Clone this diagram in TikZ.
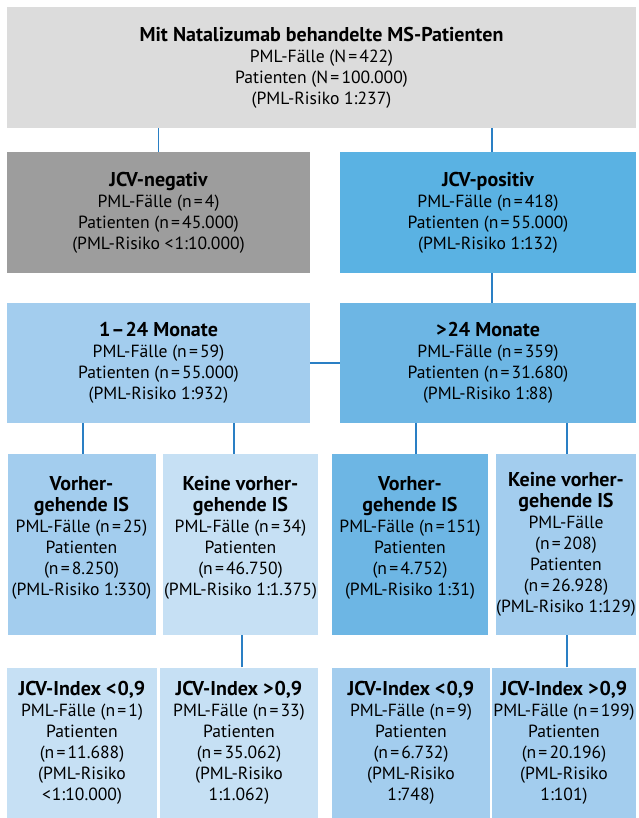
\documentclass[tikz,border=0pt]{standalone}
\usepackage{fontspec}
\setmainfont{PT Sans}
\usetikzlibrary{positioning}

\definecolor{topgray}{HTML}{DCDCDC}
\definecolor{neggray}{HTML}{9D9D9D}
\definecolor{posblue}{HTML}{5AB2E3}
\definecolor{midblue}{HTML}{6DB6E4}
\definecolor{lightblue}{HTML}{A3CDEE}
\definecolor{paleblue}{HTML}{C6E0F4}
\definecolor{linkblue}{HTML}{2A7FC4}

% text of a row-4 box starts at the top
\newcommand{\toptext}[2]{\parbox[c][136pt][t]{#1}{\centering #2}}
\newcommand{\eq}{\kern2.2pt=\kern2.2pt}
\newcommand{\hd}[1]{{\fontsize{20}{21}\selectfont\bfseries #1}}

\begin{document}
\begin{tikzpicture}[x=1pt,y=-1pt,
    cell/.style={rectangle,inner sep=0pt,align=center,
        font=\fontsize{17.6}{21}\selectfont},
    link/.style={draw=linkblue,line width=1.5pt}]
    \useasboundingbox (0,0) rectangle (638,818);

    \node[cell,fill=topgray,minimum width=629,minimum height=121] (MS) at (321.5,67.5)
        {\hd{Mit Natalizumab behandelte MS-Patienten}\\PML-Fälle (N\eq422)\\Patienten (N\eq100.000)\\(PML-Risiko 1:237)};

    \node[cell,fill=neggray,minimum width=303,minimum height=121] (NEG) at (158.5,212.5)
        {\hd{JCV-negativ}\\PML-Fälle (n\eq4)\\Patienten (n\eq45.000)\\(PML-Risiko <\kern1pt1:10.000)};
    \node[cell,fill=posblue,minimum width=296,minimum height=121] (POS) at (488,212.5)
        {\hd{JCV-positiv}\\PML-Fälle (n\eq418)\\Patienten (n\eq55.000)\\(PML-Risiko 1:132)};

    \node[cell,fill=lightblue,minimum width=303,minimum height=120] (M1) at (158.5,363)
        {\hd{1\kern1pt–\kern1pt24 Monate}\\PML-Fälle (n\eq59)\\Patienten (n\eq55.000)\\(PML-Risiko 1:932)};
    \node[cell,fill=midblue,minimum width=296,minimum height=120] (M2) at (488,363)
        {\hd{>\kern1pt24 Monate}\\PML-Fälle (n\eq359)\\Patienten (n\eq31.680)\\(PML-Risiko 1:88)};

    \node[cell,fill=lightblue,minimum width=148,minimum height=181] (M1_IS) at (81.5,544.5)
        {\toptext{146pt}{\hd{Vorher-}\\\hd{gehende IS}\\PML-Fälle (n\eq25)\\Patienten\\(n\eq8.250)\\(PML-Risiko 1:330)}};
    \node[cell,fill=paleblue,minimum width=155,minimum height=181] (M1_NIS) at (240.5,544.5)
        {\toptext{154pt}{\hd{Keine vorher-}\\\hd{gehende IS}\\PML-Fälle (n\eq34)\\Patienten\\(n\eq46.750)\\(PML-Risiko 1:1.375)}};
    \node[cell,fill=midblue,minimum width=156,minimum height=181] (M2_IS) at (410,544.5)
        {\toptext{154pt}{\hd{Vorher-}\\\hd{gehende IS}\\PML-Fälle (n\eq151)\\Patienten\\(n\eq4.752)\\(PML-Risiko 1:31)}};
    \node[cell,fill=lightblue,minimum width=140,minimum height=181] (M2_NIS) at (566,544.5)
        {\hd{Keine vorher-}\\\hd{gehende IS}\\PML-Fälle\\(n\eq208)\\Patienten\\(n\eq26.928)\\(PML-Risiko 1:129)};

    \node[cell,fill=paleblue,minimum width=150,minimum height=151] (M1_LO) at (82,743)
        {\hd{JCV-Index <\kern1pt0,9}\\PML-Fälle (n\eq1)\\Patienten\\(n\eq11.688)\\(PML-Risiko\\<\kern1pt1:10.000)};
    \node[cell,fill=paleblue,minimum width=158,minimum height=151] (M1_HI) at (239,743)
        {\hd{JCV-Index >\kern1pt0,9}\\PML-Fälle (n\eq33)\\Patienten\\(n\eq35.062)\\(PML-Risiko\\1:1.062)};
    \node[cell,fill=lightblue,minimum width=158,minimum height=151] (M2_LO) at (411,743)
        {\hd{JCV-Index <\kern1pt0,9}\\PML-Fälle (n\eq9)\\Patienten\\(n\eq6.732)\\(PML-Risiko\\1:748)};
    \node[cell,fill=lightblue,minimum width=144,minimum height=151] (M2_HI) at (564,743)
        {\hd{JCV-Index >\kern1pt0,9}\\PML-Fälle (n\eq199)\\Patienten\\(n\eq20.196)\\(PML-Risiko\\1:101)};

    \path[link] (NEG.north) -- (NEG.north |- MS.south);
    \path[link] ([xshift=4pt]POS.north) -- ([xshift=4pt]POS.north |- MS.south);
    \path[link] ([xshift=4pt]POS.south) -- ([xshift=4pt]POS.south |- M2.north);
    \path[link] (M1.east) -- (M2.west);
    \path[link] ([xshift=1.5pt]M1_IS.north) -- ([xshift=1.5pt]M1_IS.north |- M1.south);
    \path[link] ([xshift=-6.5pt]M1_NIS.north) -- ([xshift=-6.5pt]M1_NIS.north |- M1.south);
    \path[link] ([xshift=6pt]M2_IS.north) -- ([xshift=6pt]M2_IS.north |- M2.south);
    \path[link] ([xshift=1pt]M2_NIS.north) -- ([xshift=1pt]M2_NIS.north |- M2.south);
    \path[link] ([xshift=3pt]M1_HI.north) -- ([xshift=3pt]M1_HI.north |- M1_NIS.south);
    \path[link] ([xshift=3pt]M2_HI.north) -- ([xshift=3pt]M2_HI.north |- M2_NIS.south);
\end{tikzpicture}
\end{document}
